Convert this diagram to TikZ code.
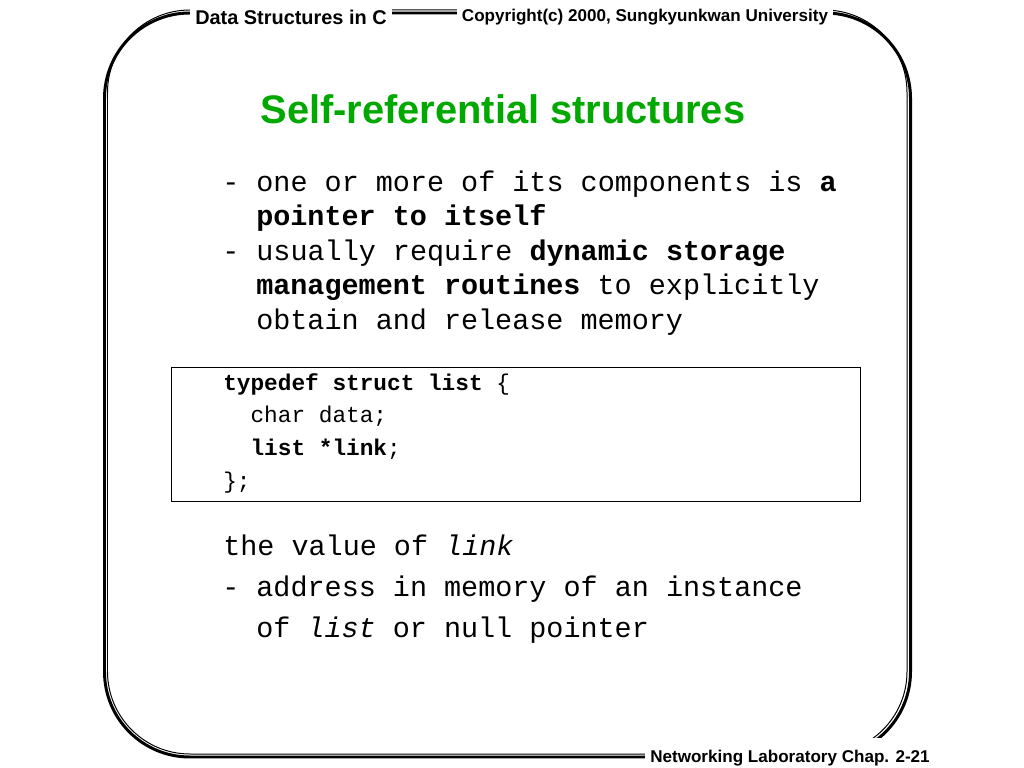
\documentclass[tikz,border=0pt]{standalone}
\usepackage{fontspec}
\setmainfont{Liberation Sans}
\setmonofont{Liberation Mono}
\definecolor{titlegreen}{RGB}{0,168,0}
\tikzset{
  hdrtext/.style={fill=white, inner xsep=3.6pt, inner ysep=4pt, anchor=base, font=\bfseries\fontsize{12}{14}\selectfont},
  bodyline/.style={anchor=base west, inner sep=0pt, font=\ttfamily\fontsize{20}{24}\selectfont},
  codeline/.style={anchor=base west, inner sep=0pt, font=\ttfamily\fontsize{16}{19}\selectfont},
  framethick/.style={line width=2.1pt, rounded corners=60pt},
  framethin/.style={line width=0.7pt, rounded corners=58pt}
}
\begin{document}
\begin{tikzpicture}[x=0.703125pt,y=-0.703125pt]
\useasboundingbox (0,0) rectangle (1024,768);
% frame
\draw[framethick] (104.5,13) rectangle (910.5,757);
\draw[framethin] (107.5,10) rectangle (907,754);
% header / footer
\node[hdrtext, font=\bfseries\fontsize{14}{16}\selectfont] (hleft) at (291,25) {Data Structures in C};
\node[hdrtext] (hright) at (645,22) {Copyright(c) 2000, Sungkyunkwan University};
\node[hdrtext, inner ysep=8pt] (foot) at (790,762) {Networking Laboratory Chap. 2-21};
% title
\node[font=\bfseries\fontsize{28}{32}\selectfont, text=titlegreen, inner sep=0pt] (title) at (503,109) {Self-referential structures};
% body
\node[bodyline] (b1) at (222,192) {- one or more of its components is \textbf{a}};
\node[bodyline] (b2) at (256,226) {\textbf{pointer to itself}};
\node[bodyline] (b3) at (222,260.5) {- usually require \textbf{dynamic storage}};
\node[bodyline] (b4) at (256,294.5) {\textbf{management routines} to explicitly};
\node[bodyline] (b5) at (256,329) {obtain and release memory};
% code box
\node[draw, line width=0.7pt, anchor=north west, inner sep=0pt, minimum width=484.5pt, minimum height=94.2pt] (box) at (171,367) {};
\node[codeline] (c1) at (223,390) {\textbf{typedef struct list} \{};
\node[codeline] (c2) at (250.3,422.7) {char data;};
\node[codeline] (c3) at (250.3,455.4) {\textbf{list *link};};
\node[codeline] (c4) at (223,488) {\};};
% lower text
\node[bodyline] (l1) at (223,555) {the value of \textit{link}};
\node[bodyline] (l2) at (222,596) {- address in memory of an instance};
\node[bodyline] (l3) at (256,637) {of \textit{list} or null pointer};
\end{tikzpicture}
\end{document}
